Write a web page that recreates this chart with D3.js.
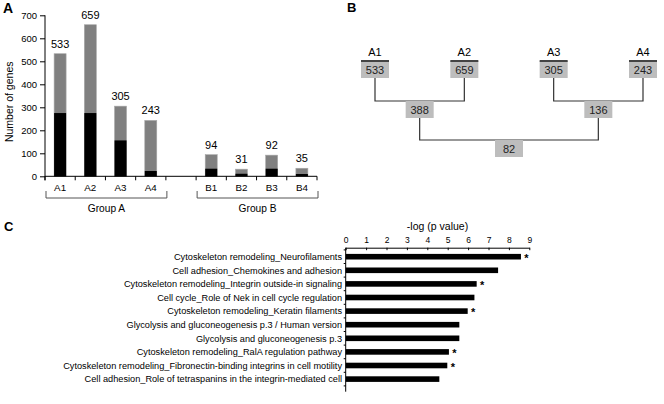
<!DOCTYPE html>
<html>
<head>
<meta charset="utf-8">
<script src="https://cdn.jsdelivr.net/npm/d3@7"></script>
<style>
  html, body { margin: 0; padding: 0; background: #fff; }
  svg { display: block; font-family: "Liberation Sans", Arial, sans-serif; }
</style>
</head>
<body>
<svg id="chart" width="664" height="404"></svg>
<script>
// ---------- Panel A data ----------
const barCategories = ["A1", "A2", "A3", "A4", "B1", "B2", "B3", "B4"];
const totalGenes = [533, 659, 305, 243, 94, 31, 92, 35];
const blackGenes = [275, 275, 156, 23, 33, 11, 33, 10];
const groupNames = ["Group A", "Group B"];
const groupMembers = [["A1", "A2", "A3", "A4"], ["B1", "B2", "B3", "B4"]];
const yTicksA = [0, 100, 200, 300, 400, 500, 600, 700];

// ---------- Panel B data ----------
const leafNames = ["A1", "A2", "A3", "A4"];
const leafValues = [533, 659, 305, 243];
const pairValues = [388, 136];
const rootValue = [82];

// ---------- Panel C data ----------
const pathways = [
  "Cytoskeleton remodeling_Neurofilaments",
  "Cell adhesion_Chemokines and adhesion",
  "Cytoskeleton remodeling_Integrin outside-in signaling",
  "Cell cycle_Role of Nek in cell cycle regulation",
  "Cytoskeleton remodeling_Keratin filaments",
  "Glycolysis and gluconeogenesis p.3 / Human version",
  "Glycolysis and gluconeogenesis p.3",
  "Cytoskeleton remodeling_RalA regulation pathway",
  "Cytoskeleton remodeling_Fibronectin-binding integrins in cell motility",
  "Cell adhesion_Role of tetraspanins in the integrin-mediated cell"
];
const negLogP = [8.59, 7.47, 6.42, 6.31, 5.98, 5.57, 5.57, 5.06, 4.98, 4.59];
const starred = [true, false, true, false, true, false, false, true, true, false];
const xTicksC = [0, 1, 2, 3, 4, 5, 6, 7, 8, 9];

const svg = d3.select("#chart");

// ================= Panel A =================
const gA = svg.append("g");
const bandDomain = ["A1", "A2", "A3", "A4", "_gap", "B1", "B2", "B3", "B4"];
const xA = d3.scaleBand().domain(bandDomain).range([45, 317]).padding(0);
const yA = d3.scaleLinear().domain([0, 700]).range([176.3, 15.3]);
const barW = 12;

gA.append("text").attr("x", 3).attr("y", 13).attr("font-size", 14)
  .attr("font-weight", "bold").text("A");

// y axis
const yAxisA = d3.axisLeft(yA).tickValues(yTicksA).tickSize(5).tickPadding(3);
const yg = gA.append("g").attr("transform", "translate(45,0)").call(yAxisA);
yg.select(".domain").remove();
yg.selectAll("line").attr("stroke", "#000");
yg.selectAll("text").attr("font-size", 9.5).attr("fill", "#000")
  .attr("font-family", "Liberation Sans, Arial, sans-serif");
gA.append("line").attr("x1", 45).attr("x2", 45).attr("y1", yA(700)).attr("y2", yA(0) + 4)
  .attr("stroke", "#000");

// y axis title
gA.append("text").attr("transform", `translate(13,${(yA(0) + yA(700)) / 2 + 6}) rotate(-90)`)
  .attr("text-anchor", "middle").attr("font-size", 10.5).text("Number of genes");

// bars
const barData = barCategories.map((c, i) => ({ c, total: totalGenes[i], black: blackGenes[i] }));
gA.selectAll(".gbar").data(barData).enter().append("rect")
  .attr("x", d => xA(d.c) + xA.bandwidth() / 2 - barW / 2)
  .attr("width", barW)
  .attr("y", d => yA(d.total))
  .attr("height", d => yA(0) - yA(d.total))
  .attr("fill", "#808080").attr("stroke", "#a8a8a8").attr("stroke-width", 0.6);
gA.selectAll(".kbar").data(barData).enter().append("rect")
  .attr("x", d => xA(d.c) + xA.bandwidth() / 2 - barW / 2)
  .attr("width", barW)
  .attr("y", d => yA(d.black))
  .attr("height", d => yA(0) - yA(d.black))
  .attr("fill", "#000");
gA.selectAll(".vlab").data(barData).enter().append("text")
  .attr("x", d => xA(d.c) + xA.bandwidth() / 2)
  .attr("y", d => yA(d.total) - 6)
  .attr("text-anchor", "middle").attr("font-size", 11).text(d => d.total);

// x axis line and boundary ticks
gA.append("line").attr("x1", 45).attr("x2", 317).attr("y1", yA(0)).attr("y2", yA(0)).attr("stroke", "#000");
const boundaries = bandDomain.map(d => xA(d)).concat([xA.range()[1]]);
gA.selectAll(".xt").data(boundaries).enter().append("line")
  .attr("x1", d => d).attr("x2", d => d)
  .attr("y1", yA(0)).attr("y2", yA(0) + 4).attr("stroke", "#000");
gA.selectAll(".clab").data(barCategories).enter().append("text")
  .attr("x", d => xA(d) + xA.bandwidth() / 2).attr("y", 191)
  .attr("text-anchor", "middle").attr("font-size", 9.8).text(d => d);

// group brackets
groupNames.forEach((g, i) => {
  const m = groupMembers[i];
  const x0 = xA(m[0]) + 1, x1 = xA(m[m.length - 1]) + xA.bandwidth() + 1;
  gA.append("path")
    .attr("d", `M${x0},191 V198 H${x1} V191`)
    .attr("fill", "none").attr("stroke", "#555").attr("stroke-width", 1);
  gA.append("text").attr("x", (x0 + x1) / 2).attr("y", 211.5)
    .attr("text-anchor", "middle").attr("font-size", 10.2).text(g);
});

// ================= Panel B =================
const gB = svg.append("g");
gB.append("text").attr("x", 347).attr("y", 12).attr("font-size", 13)
  .attr("font-weight", "bold").text("B");

const xLeaf = d3.scalePoint().domain(leafNames).range([375, 643]);
const boxW = 28, boxH = 17;
const lineCol = "#333";
const boxFill = "#bdbdbd";
const leafTop = 61, level1 = 101, level2 = 140;

const leafX = leafNames.map(n => xLeaf(n));
const pairX = [(leafX[0] + leafX[1]) / 2, (leafX[2] + leafX[3]) / 2];
const rootX = [(pairX[0] + pairX[1]) / 2];

// connectors
[0, 1].forEach(p => {
  const a = leafX[p * 2], b = leafX[p * 2 + 1];
  gB.append("path").attr("d", `M${a},${leafTop + boxH} V${level1} H${b} V${leafTop + boxH}`)
    .attr("fill", "none").attr("stroke", lineCol).attr("stroke-width", 1.2);
});
gB.append("path").attr("d", `M${pairX[0]},${level1 + boxH} V${level2} H${pairX[1]} V${level1 + boxH}`)
  .attr("fill", "none").attr("stroke", lineCol).attr("stroke-width", 1.2);

function box(cx, top, val) {
  gB.append("rect").attr("x", cx - boxW / 2).attr("y", top).attr("width", boxW).attr("height", boxH)
    .attr("fill", boxFill);
  gB.append("text").attr("x", cx).attr("y", top + boxH / 2 + 4).attr("text-anchor", "middle")
    .attr("font-size", 11).attr("fill", "#222").text(val);
}
leafNames.forEach((n, i) => {
  box(leafX[i], leafTop, leafValues[i]);
  gB.append("line").attr("x1", leafX[i] - boxW / 2).attr("x2", leafX[i] + boxW / 2)
    .attr("y1", leafTop).attr("y2", leafTop).attr("stroke", "#444").attr("stroke-width", 2);
  gB.append("text").attr("x", leafX[i]).attr("y", 56).attr("text-anchor", "middle")
    .attr("font-size", 11).text(n);
});
pairValues.forEach((v, i) => box(pairX[i], level1, v));
rootValue.forEach((v, i) => box(rootX[i], level2, v));

// ================= Panel C =================
const gC = svg.append("g");
gC.append("text").attr("x", 4).attr("y", 231).attr("font-size", 13)
  .attr("font-weight", "bold").text("C");

const xC = d3.scaleLinear().domain([0, 9]).range([345.7, 529.3]);
const yC = d3.scaleBand().domain(pathways).range([249.9, 385.9]);
const axisY = 247.7;
const barH = 5.6;

gC.append("text").attr("x", (xC(0) + xC(9)) / 2).attr("y", 229.5).attr("text-anchor", "middle")
  .attr("font-size", 10.5).text("-log (p value)");

const xAxisC = d3.axisTop(xC).tickValues(xTicksC).tickSizeInner(-2.5).tickSizeOuter(0).tickPadding(5);
const xg = gC.append("g").attr("transform", `translate(0,${axisY})`).call(xAxisC);
xg.select(".domain").attr("stroke", "#000");
xg.selectAll("line").attr("stroke", "#000");
xg.selectAll("text").attr("font-size", 8.5).attr("fill", "#000")
  .attr("font-family", "Liberation Sans, Arial, sans-serif");

// vertical axis
gC.append("line").attr("x1", xC(0)).attr("x2", xC(0)).attr("y1", axisY).attr("y2", 391.7)
  .attr("stroke", "#000");
const cBounds = pathways.map(p => yC(p)).concat([yC.range()[1]]);
gC.selectAll(".yt").data(cBounds).enter().append("line")
  .attr("x1", xC(0) - 2).attr("x2", xC(0)).attr("y1", d => d).attr("y2", d => d)
  .attr("stroke", "#000");

const cData = pathways.map((p, i) => ({ p, v: negLogP[i], s: starred[i] }));
gC.selectAll(".cbar").data(cData).enter().append("rect")
  .attr("x", xC(0)).attr("y", d => yC(d.p) + yC.bandwidth() / 2 - barH / 2)
  .attr("width", d => xC(d.v) - xC(0)).attr("height", barH).attr("fill", "#000");
gC.selectAll(".clab2").data(cData).enter().append("text")
  .attr("x", 342).attr("y", d => yC(d.p) + yC.bandwidth() / 2 + 3.2)
  .attr("text-anchor", "end").attr("font-size", 9.2).text(d => d.p);
gC.selectAll(".star").data(cData.filter(d => d.s)).enter().append("text")
  .attr("x", d => xC(d.v) + 5.5).attr("y", d => yC(d.p) + yC.bandwidth() / 2 + 5)
  .attr("text-anchor", "middle").attr("font-size", 11).attr("font-weight", "bold").text("*");
</script>
</body>
</html>
